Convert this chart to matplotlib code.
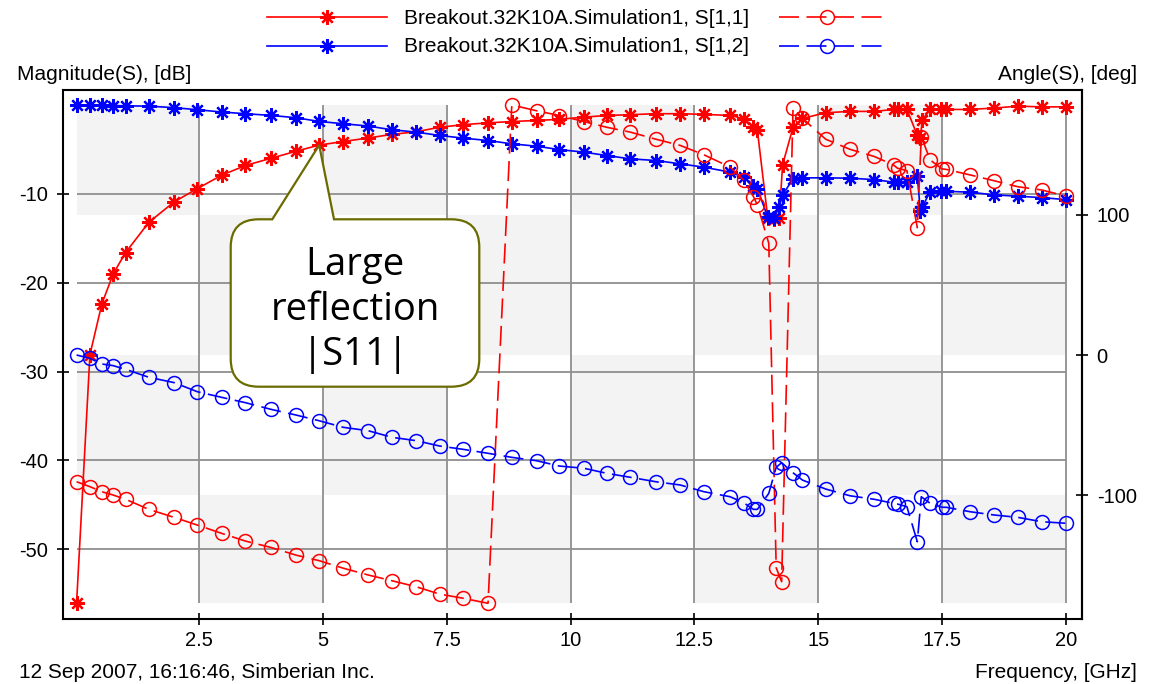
import numpy as np
import matplotlib.pyplot as plt
from matplotlib.lines import Line2D
from matplotlib.patches import Rectangle, PathPatch
from matplotlib.path import Path
from matplotlib.transforms import IdentityTransform

# magnitude traces, GHz / dB
freq_mag = [0.02, 0.29, 0.53, 0.76, 1.01, 1.48, 1.99, 2.46, 2.95, 3.43,
            3.94, 4.45, 4.92, 5.41, 5.91, 6.39, 6.88, 7.35, 7.83, 8.33,
            8.81, 9.31, 9.77, 10.27, 10.73, 11.2, 11.72, 12.21, 12.69, 13.22,
            13.49, 13.69, 13.77, 13.98, 14.1, 14.21, 14.28, 14.49, 14.68, 15.15,
            15.64, 16.13, 16.52, 16.6, 16.79, 17.0, 17.06, 17.1, 17.25, 17.48,
            17.57, 18.07, 18.55, 19.04, 19.51, 20.0]
s11_db = [-56.1, -28.1, -22.4, -19.0, -16.6, -13.2, -10.9, -9.4, -7.9, -6.8,
          -6.0, -5.2, -4.5, -4.1, -3.7, -3.3, -3.0, -2.5, -2.2, -2.0,
          -1.85, -1.73, -1.6, -1.35, -1.17, -1.08, -0.97, -0.97, -1.05, -1.16,
          -1.53, -2.47, -2.85, -12.7, -12.8, -12.7, -6.7, -2.5, -1.5, -0.86,
          -0.71, -0.71, -0.49, -0.49, -0.49, -3.4, -3.7, -1.7, -0.49, -0.49,
          -0.49, -0.49, -0.33, -0.12, -0.2, -0.2]
s12_db = [-0.02, -0.03, -0.04, -0.05, -0.08, -0.12, -0.29, -0.52, -0.78, -0.97,
          -1.16, -1.42, -1.84, -2.1, -2.36, -2.78, -3.04, -3.42, -3.72, -3.99,
          -4.36, -4.63, -5.01, -5.3, -5.68, -6.05, -6.24, -6.61, -6.99, -7.55,
          -8.12, -9.06, -9.44, -12.6, -12.75, -11.5, -10.1, -8.31, -8.19, -8.19,
          -8.23, -8.39, -8.68, -8.68, -8.61, -7.94, -11.9, -11.5, -9.81, -9.63,
          -9.7, -9.81, -10.11, -10.26, -10.42, -10.64]

# phase traces, GHz / deg
freq_ang = [0.02, 0.29, 0.53, 0.76, 1.01, 1.48, 1.99, 2.46, 2.95, 3.43,
            3.94, 4.45, 4.92, 5.41, 5.91, 6.39, 6.88, 7.35, 7.83, 8.33,
            8.81, 9.31, 9.77, 10.27, 10.73, 11.2, 11.72, 12.21, 12.69, 13.22,
            13.49, 13.69, 13.77, 14.0, 14.15, 14.26, 14.49, 14.68, 15.15, 15.64,
            16.13, 16.52, 16.6, 16.79, 17.0, 17.08, 17.26, 17.5, 17.58, 18.07,
            18.55, 19.03, 19.51, 20.0]
s11_deg = [-90.4, -93.9, -97.5, -99.9, -102.9, -110.1, -115.8, -121.3, -127.2, -132.7,
           -137.2, -142.7, -146.7, -152.1, -156.9, -161.0, -165.3, -170.5, -173.5, -177.1,
           178.3, 174.2, 170.8, 166.5, 162.4, 159.0, 153.9, 149.5, 142.8, 134.0,
           124.8, 113.0, 107.0, 79.7, -151.8, -161.7, 176.0, 168.8, 153.9, 146.7,
           141.6, 135.5, 133.2, 131.5, 90.8, 155.7, 139.1, 132.7, 132.4, 128.4,
           124.3, 120.0, 117.7, 113.4]
s12_deg = [0.0, -2.4, -6.4, -7.6, -10.2, -15.9, -19.7, -26.2, -30.2, -34.0,
           -38.7, -42.8, -46.9, -51.6, -54.0, -58.7, -61.1, -64.9, -67.3, -70.1,
           -73.0, -75.4, -79.2, -80.8, -84.4, -87.2, -90.4, -92.7, -97.5, -101.1,
           -105.3, -110.1, -110.1, -98.7, -80.1, -76.8, -84.0, -89.2, -95.6, -100.4,
           -102.9, -105.8, -106.3, -108.2, -133.2, -101.1, -105.8, -108.6, -108.6, -111.8,
           -114.1, -115.8, -118.9, -120.0]

x_ticks = [2.5, 5, 7.5, 10, 12.5, 15, 17.5, 20]
x_tick_labels = ['2.5', '5', '7.5', '10', '12.5', '15', '17.5', '20']
mag_ticks = [-10, -20, -30, -40, -50]
mag_tick_labels = ['-10', '-20', '-30', '-40', '-50']
ang_ticks = [100, 0, -100]
ang_tick_labels = ['100', '0', '-100']

legend_labels = ['Breakout.32K10A.Simulation1, S[1,1]',
                 'Breakout.32K10A.Simulation1, S[1,2]']
legend_colors = ['red', 'blue']
callout_lines = ['Large', 'reflection', '|S11|']

W, H = 1154, 684
plt.rcParams['font.family'] = ['Liberation Sans', 'DejaVu Sans']
plt.rcParams['axes.unicode_minus'] = False

STAR = (8, 2, 0)
DASH = (0, (12, 4.5))
GRID = '#8f8f8f'
SHADE = '#f3f3f3'
OLIVE = '#6b6b00'
star_kw = dict(marker=STAR, ms=10.5, mew=1.6)
circ_kw = dict(marker='o', ms=10, mfc='none', mew=1.1)


def fx(px):
    return px / W


def fy(py):
    return 1 - py / H


fig = plt.figure(figsize=(W / 100, H / 100), dpi=100)
ax = fig.add_axes([fx(62.7), fy(619.3), fx(1081.7) - fx(62.7), fy(90) - fy(619.3)])
ax2 = ax.twinx()

ax.set_xlim(-0.26, 20.32)
ax.set_ylim(-57.9, 1.7)
ax2.set_ylim(-188.5, 189)

# data box: checkerboard shading + clipped grid
f0, f1 = min(freq_mag), max(freq_mag)
m0, m1 = min(s11_db + s12_db), max(s11_db + s12_db)
a0, a1 = min(s11_deg + s12_deg), max(s11_deg + s12_deg)

cols = [f0] + x_ticks
rows = [a1] + ang_ticks + [a0]
for i in range(len(cols) - 1):
    for j in range(len(rows) - 1):
        if (i + j) % 2 == 0:
            ax.add_patch(Rectangle((cols[i], rows[j + 1]), cols[i + 1] - cols[i],
                                   rows[j] - rows[j + 1], transform=ax2.transData,
                                   facecolor=SHADE, edgecolor='none', zorder=0.5))

ax.vlines(x_ticks, m0, m1, colors=GRID, lw=1.3, zorder=1)
ax.hlines(mag_ticks, f0, f1, colors=GRID, lw=1.3, zorder=1)

ax.plot(freq_mag, s11_db, color='red', lw=1.2, zorder=3, **star_kw)
ax.plot(freq_mag, s12_db, color='blue', lw=1.2, zorder=3, **star_kw)
ax2.plot(freq_ang, s11_deg, color='red', lw=1.2, ls=DASH, **circ_kw)
ax2.plot(freq_ang, s12_deg, color='blue', lw=1.2, ls=DASH, **circ_kw)

ax.set_xticks(x_ticks, x_tick_labels)
ax.set_yticks(mag_ticks, mag_tick_labels)
ax2.set_yticks(ang_ticks, ang_tick_labels)
ax.tick_params(direction='inout', length=8.5, width=1.2, labelsize=14.5, pad=6.5)
ax.tick_params(axis='x', pad=4)
ax2.tick_params(direction='inout', length=8.5, width=1.2, labelsize=14.5, pad=6.5)
for s in ax.spines.values():
    s.set_linewidth(1.5)
for k in ['left', 'top', 'bottom']:
    ax2.spines[k].set_visible(False)
ax2.spines['right'].set_linewidth(1.5)

# axis captions
fig.text(fx(17), fy(74), 'Magnitude(S), [dB]', ha='left', va='center', fontsize=15)
fig.text(fx(1137), fy(74), 'Angle(S), [deg]', ha='right', va='center', fontsize=15)
fig.text(fx(19), fy(673), '12 Sep 2007, 16:16:46, Simberian Inc.', ha='left',
         va='center', fontsize=15)
fig.text(fx(1137), fy(673), 'Frequency, [GHz]', ha='right', va='center', fontsize=15)

# legend rows
for row, (lab, col) in enumerate(zip(legend_labels, legend_colors)):
    y = 17 + row * 28.5
    fig.add_artist(Line2D([fx(266.7), fx(386.5)], [fy(y), fy(y)], color=col, lw=1.2,
                          transform=fig.transFigure))
    fig.add_artist(Line2D([fx(327)], [fy(y)], color=col, ls='none',
                          transform=fig.transFigure, **star_kw))
    fig.text(fx(403.7), fy(y + 1), lab, ha='left', va='center', fontsize=15)
    fig.add_artist(Line2D([fx(779), fx(889)], [fy(y), fy(y)], color=col, lw=1.2, ls=DASH,
                          transform=fig.transFigure))
    fig.add_artist(Line2D([fx(827)], [fy(y)], color=col, ls='none',
                          transform=fig.transFigure, **circ_kw))

# callout pointing at |S11| near 5 GHz
tip = ax.transData.transform((freq_mag[12], s11_db[12]))
L, R, T, B, r = 230.7, 479.3, H - 219.3, H - 386.7, 28
xa, xb = 272.3, 334
verts = [(xa, T), tuple(tip), (xb, T), (R - r, T), (R, T), (R, T - r), (R, B + r),
         (R, B), (R - r, B), (L + r, B), (L, B), (L, B + r), (L, T - r), (L, T),
         (L + r, T), (xa, T)]
codes = [Path.MOVETO, Path.LINETO, Path.LINETO, Path.LINETO, Path.CURVE3, Path.CURVE3,
         Path.LINETO, Path.CURVE3, Path.CURVE3, Path.LINETO, Path.CURVE3, Path.CURVE3,
         Path.LINETO, Path.CURVE3, Path.CURVE3, Path.CLOSEPOLY]
fig.add_artist(PathPatch(Path(verts, codes), facecolor='white', edgecolor=OLIVE, lw=1.6,
                         transform=IdentityTransform(), zorder=10))
for k, txt in enumerate(callout_lines):
    fig.text(fx(355), fy(275 + 45 * k), txt, ha='center', va='baseline', fontsize=27.5,
             family=['Open Sans', 'DejaVu Sans'], zorder=11)

fig.savefig('out.png', dpi=100, facecolor='white')
